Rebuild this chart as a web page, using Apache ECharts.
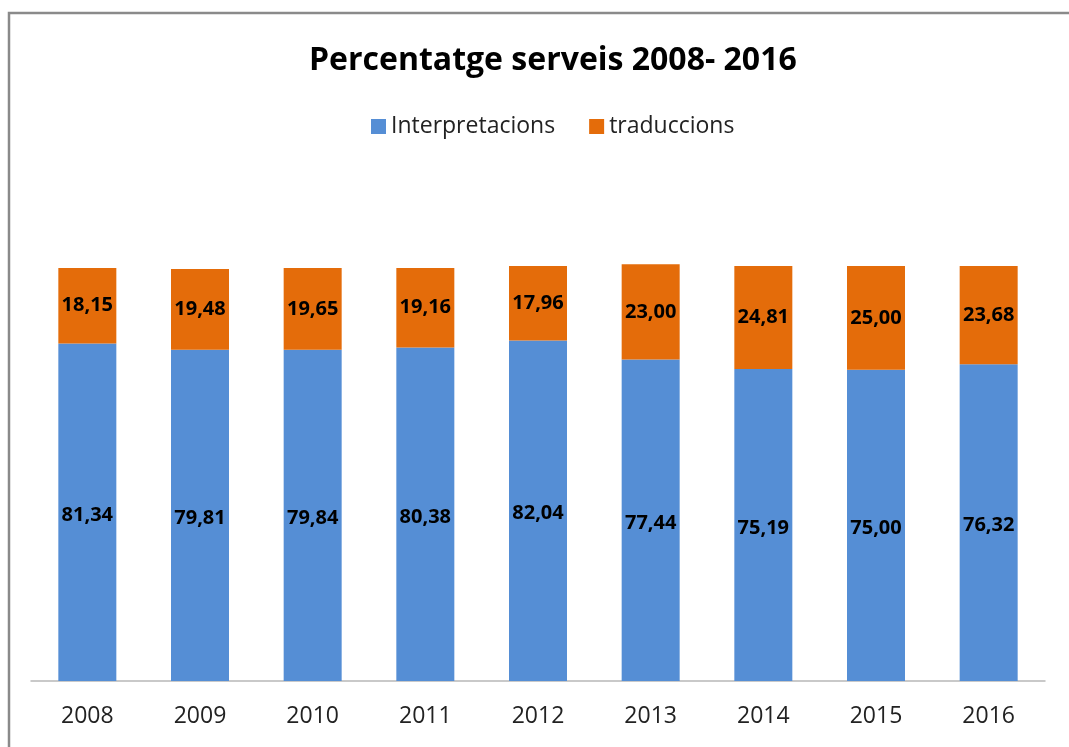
<!DOCTYPE html>
<html>
<head>
<meta charset="utf-8">
<script src="https://cdn.jsdelivr.net/npm/echarts@6/dist/echarts.min.js"></script>
<style>
  html, body { margin: 0; padding: 0; background: #fff; }
  #chart { width: 1069px; height: 747px; }
</style>
</head>
<body>
<div id="chart"></div>
<script>
// dades llegides del gràfic
const years = ['2008', '2009', '2010', '2011', '2012', '2013', '2014', '2015', '2016'];
const interpretacions = [81.34, 79.81, 79.84, 80.38, 82.04, 77.44, 75.19, 75.00, 76.32];
const traduccions = [18.15, 19.48, 19.65, 19.16, 17.96, 23.00, 24.81, 25.00, 23.68];

const fmt = p => p.value.toFixed(2).replace('.', ',');

const chart = echarts.init(document.getElementById('chart'));
chart.setOption({
  animation: false,
  textStyle: { fontFamily: 'Open Sans' },
  // marc gris del gràfic
  graphic: [{
    type: 'rect',
    shape: { x: 9, y: 13, width: 1080, height: 760 },
    style: { fill: 'none', stroke: '#8a8a8a', lineWidth: 2.5 }
  }],
  title: {
    text: 'Percentatge serveis 2008- 2016',
    left: 304,
    top: 40,
    textStyle: { fontSize: 32, fontWeight: 'bold', color: '#000', fontFamily: 'Open Sans' }
  },
  legend: {
    top: 110,
    left: 366,
    itemWidth: 15,
    itemHeight: 15,
    itemGap: 34,
    icon: 'rect',
    textStyle: { fontSize: 23, color: '#222', fontFamily: 'Open Sans' },
    data: ['Interpretacions', 'traduccions']
  },
  grid: { left: 31, right: 24, top: 183, bottom: 66, containLabel: false },
  xAxis: {
    type: 'category',
    data: years,
    axisTick: { show: false },
    axisLine: { lineStyle: { color: '#b8b8b8', width: 1.5 } },
    axisLabel: { fontSize: 23, color: '#222', margin: 24, fontFamily: 'Open Sans' }
  },
  yAxis: {
    type: 'value',
    min: 0,
    max: 120,
    interval: 20,
    show: false
  },
  series: [
    {
      name: 'Interpretacions',
      type: 'bar',
      stack: 'total',
      barWidth: 58,
      data: interpretacions,
      itemStyle: { color: '#558ed5' },
      label: { show: true, position: 'inside', offset: [0, 3], formatter: fmt, fontSize: 20, fontWeight: 'bold', color: '#000' }
    },
    {
      name: 'traduccions',
      type: 'bar',
      stack: 'total',
      barWidth: 58,
      data: traduccions,
      itemStyle: { color: '#e46c0a' },
      label: { show: true, position: 'inside', formatter: fmt, fontSize: 20, fontWeight: 'bold', color: '#000' }
    }
  ]
});
</script>
</body>
</html>
